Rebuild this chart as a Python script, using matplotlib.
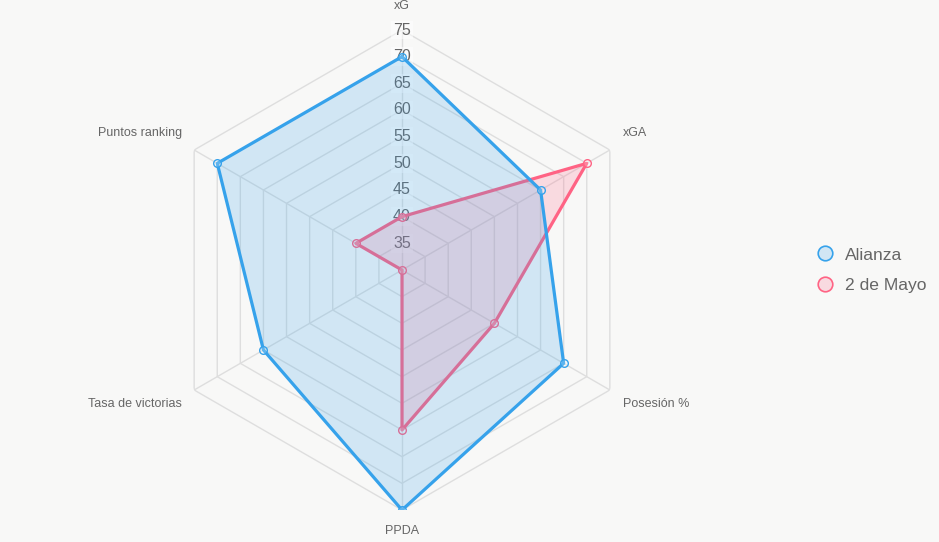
import numpy as np
import matplotlib.pyplot as plt
from matplotlib.lines import Line2D

# --- data
axes_labels = ["xG", "xGA", "Posesión %", "PPDA", "Tasa de victorias", "Puntos ranking"]
alianza = [70, 60, 65, 75, 60, 70]
dos_de_mayo = [40, 70, 50, 60, 30, 40]
ticks = [35, 40, 45, 50, 55, 60, 65, 70, 75]
r_min, r_max = 30, 75

bg = "#f8f8f7"
blue = "#36a2eb"
pink = "#ff6384"
grid_col = "#dedede"
text_col = "#666666"

plt.rcParams["font.family"] = ["Liberation Sans", "DejaVu Sans"]

fig = plt.figure(figsize=(9.39, 5.42), dpi=100, facecolor=bg)
ax = fig.add_axes([162 / 939, 32 / 542, 480 / 939, 480 / 542], projection="polar")
ax.set_facecolor("none")
ax.set_theta_offset(np.pi / 2)
ax.set_theta_direction(-1)
ax.set_ylim(r_min, r_max)
ax.grid(False)
ax.set_xticks([])
ax.set_yticks([])
ax.spines["polar"].set_visible(False)

n = len(axes_labels)
angles = np.linspace(0, 2 * np.pi, n, endpoint=False)
closed = np.append(angles, angles[0])

# hexagonal grid + spokes
for t in ticks:
    ax.plot(closed, [t] * (n + 1), color=grid_col, lw=1, zorder=1)
for a in angles:
    ax.plot([a, a], [r_min, r_max], color=grid_col, lw=1, zorder=1)

# datasets (first dataset drawn on top, like Chart.js)
for vals, col, z in [(dos_de_mayo, pink, 3), (alianza, blue, 4)]:
    v = np.append(vals, vals[0])
    ax.fill(closed, v, color=col, alpha=0.2, lw=0, zorder=z)
    ax.plot(closed, v, color=col, lw=2.3, zorder=z + 0.1)
    ax.plot(angles, vals, ls="none", marker="o", ms=5.5, mec=col, mfc=(1, 1, 1, 0.2),
            mew=1, zorder=z + 0.2)

# tick labels along xG axis
for t in ticks:
    ax.text(0, t, str(t), ha="center", va="center", fontsize=11.5, color=text_col,
            zorder=2.5, bbox=dict(boxstyle="square,pad=0.12", fc="white", ec="none", alpha=0.5))

# point labels
offsets = [(0, 24, "center"), (13, 17, "left"), (13, -14, "left"),
           (0, -21, "center"), (-12, -14, "right"), (-12, 17, "right")]
for a, lab, (dx, dy, ha) in zip(angles, axes_labels, offsets):
    ax.annotate(lab, xy=(a, r_max), xytext=(dx, dy), textcoords="offset pixels",
                ha=ha, va="center", fontsize=9, color=text_col, annotation_clip=False)

# legend
handles = [Line2D([], [], ls="none", marker="o", ms=10.5, mfc=(*plt.matplotlib.colors.to_rgb(c), 0.2),
                  mec=c, mew=1.2) for c in (blue, pink)]
fig.legend(handles, ["Alianza", "2 de Mayo"], loc="center left",
           bbox_to_anchor=(799 / 939, 1 - 270 / 542), frameon=False, fontsize=12.6,
           labelcolor=text_col, handletextpad=0.55, labelspacing=0.85, handlelength=1.2)

fig.savefig("out.png", dpi=100, facecolor=bg)
